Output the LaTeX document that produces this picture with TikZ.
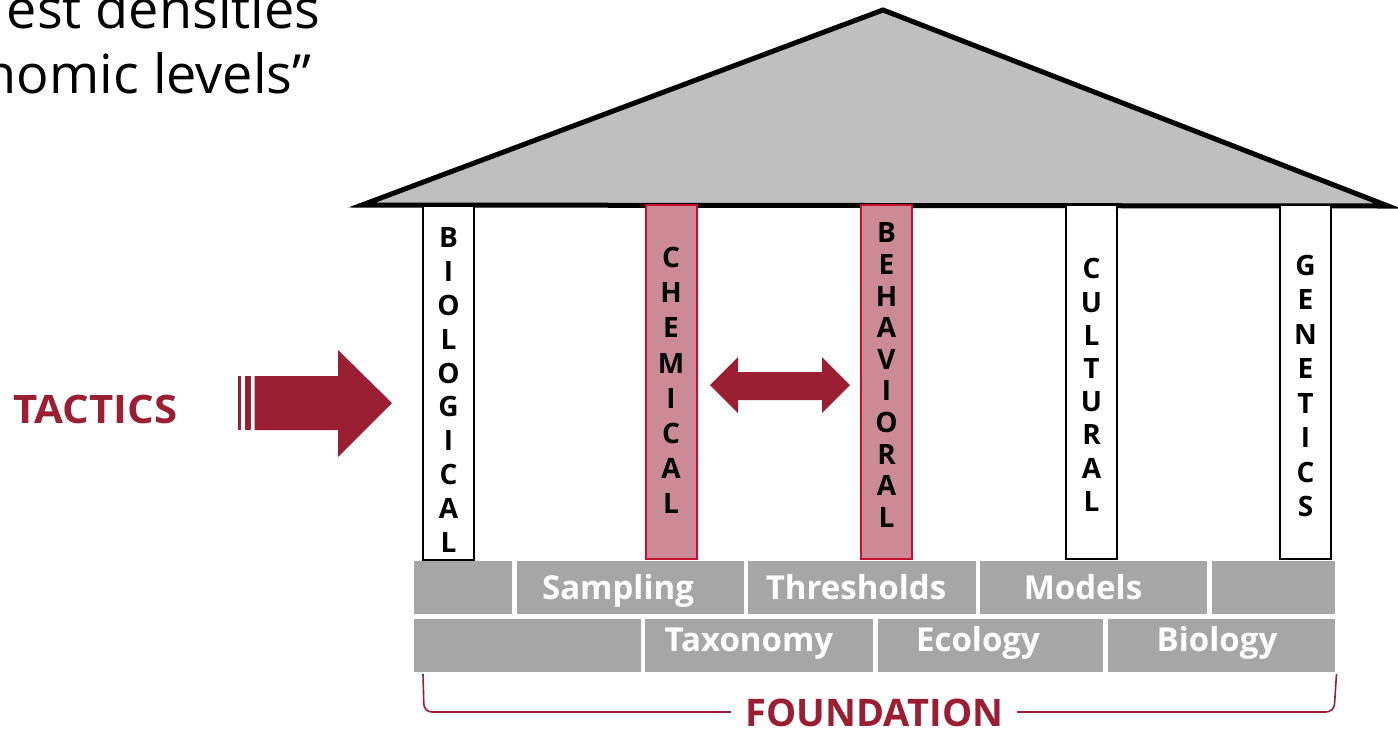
\documentclass[tikz,border=0pt]{standalone}
\usepackage{fontspec}
\setmainfont{Open Sans}
\definecolor{roofgray}{HTML}{BFBFBF}
\definecolor{fgray}{HTML}{A6A6A6}
\definecolor{darkred}{HTML}{9B1F33}
\definecolor{pillarpink}{HTML}{CC8A96}
\definecolor{pillarred}{HTML}{C8102E}
\tikzset{
  whitepillar/.style={draw=black, line width=1pt, fill=white, minimum width=25.5pt, minimum height=177pt, inner sep=0pt},
  redpillar/.style={draw=pillarred, line width=1pt, fill=pillarpink, minimum width=25.5pt, minimum height=177pt, inner sep=0pt},
  letters/.style={font=\fontsize{14}{#1}\selectfont\bfseries, align=center, inner sep=0pt},
  fblock/.style={fill=fgray, minimum height=26.5pt, inner sep=0pt},
  ftext/.style={text=white, font=\fontsize{16.5}{18}\selectfont\bfseries, inner sep=0pt, text height=11.8pt, text depth=0pt},
  redlabel/.style={text=darkred, font=\fontsize{19}{22}\selectfont\bfseries, inner sep=0pt, text height=13.5pt, text depth=0pt},
  bigtext/.style={font=\fontsize{27}{30}\selectfont, inner sep=0pt, anchor=base east},
  arrowfill/.style={fill=darkred},
  bracket/.style={draw=darkred, line width=0.8pt, rounded corners=4pt},
}
\begin{document}
\begin{tikzpicture}[x=0.5pt,y=-0.5pt]
\useasboundingbox (0,0) rectangle (1398,730);
\clip (0,0) rectangle (1398,730);

% top-left quote fragment
\node[bigtext] (q1) at (321,28) {est densities};
\node[bigtext] (q2) at (312,93) {nomic levels”};

% roof
\fill[roofgray] (362,205) -- (883,10) -- (1388,206) -- cycle;
\draw[line width=2.5pt, line join=miter, line cap=round] (362,205) -- (883,10) -- (1388,206) -- cycle;

% pillars
\node[whitepillar] (bio) at (448.5,382.5) {};
\node[redpillar] (chem) at (671,382) {};
\node[redpillar] (beh) at (886.5,382) {};
\node[whitepillar] (cult) at (1091.5,382) {};
\node[whitepillar] (gen) at (1305.5,382) {};

\node[letters=16.9pt] (biot) at (448.5,390) {B\\I\\O\\L\\O\\G\\I\\C\\A\\L};
\node[letters=17.6pt] (chemt) at (671,380.5) {C\\H\\E\\M\\I\\C\\A\\L};
\node[letters=15.8pt] (beht) at (886.5,375) {B\\E\\H\\A\\V\\I\\O\\R\\A\\L};
\node[letters=16.6pt] (cultt) at (1091.5,385) {C\\U\\L\\T\\U\\R\\A\\L};
\node[letters=17.25pt] (gent) at (1305.5,386) {G\\E\\N\\E\\T\\I\\C\\S};

% foundation row 1
\node[fblock, minimum width=49pt] (r1a) at (463,587.5) {};
\node[fblock, minimum width=113.5pt] (r1b) at (630.5,587.5) {};
\node[fblock, minimum width=113.75pt] (r1c) at (861.75,587.5) {};
\node[fblock, minimum width=113.25pt] (r1d) at (1093.25,587.5) {};
\node[fblock, minimum width=61.75pt] (r1e) at (1273.25,587.5) {};
\node[ftext] (samp) at (618,588) {Sampling};
\node[ftext] (thr) at (856,588) {Thresholds};
\node[ftext] (mod) at (1083,588) {Models};

% foundation row 2
\node[fblock, minimum width=113.25pt] (r2a) at (527.25,645) {};
\node[fblock, minimum width=113.75pt] (r2b) at (758.75,645) {};
\node[fblock, minimum width=112.5pt] (r2c) at (990,645) {};
\node[fblock, minimum width=113.75pt] (r2d) at (1221.25,645) {};
\node[ftext] (tax) at (749,640) {Taxonomy};
\node[ftext] (eco) at (978,640) {Ecology};
\node[ftext] (biol) at (1217,640) {Biology};

% foundation label and bracket
\node[redlabel] (found) at (874.5,713) {FOUNDATION};
\coordinate (bl) at (423,674);
\coordinate (blend) at (731,712);
\coordinate (br) at (1336.5,674);
\coordinate (brend) at (1017,712);
\draw[bracket] (bl) -- (424,712) -- (blend);
\draw[bracket] (br) -- (1334,712) -- (brend);

% tactics
\node[text=darkred, font=\fontsize{19.6}{22}\selectfont\bfseries, inner sep=0pt, text height=14pt, text depth=0pt, xscale=1.07] (tac) at (95.5,409) {TACTICS};

% big arrow
\fill[arrowfill] (238,376) rectangle (241,430);
\fill[arrowfill] (244.5,376) rectangle (251,430);
\fill[arrowfill] (254.5,376) -- (338,376) -- (338,350) -- (392,403) -- (338,457) -- (338,430) -- (254.5,430) -- cycle;

% double arrow between chemical and behavioral
\fill[arrowfill] (710,385) -- (738,357) -- (738,372) -- (822,372) -- (822,357) -- (850,385) -- (822,413) -- (822,400) -- (738,400) -- (738,413) -- cycle;
\end{tikzpicture}
\end{document}
